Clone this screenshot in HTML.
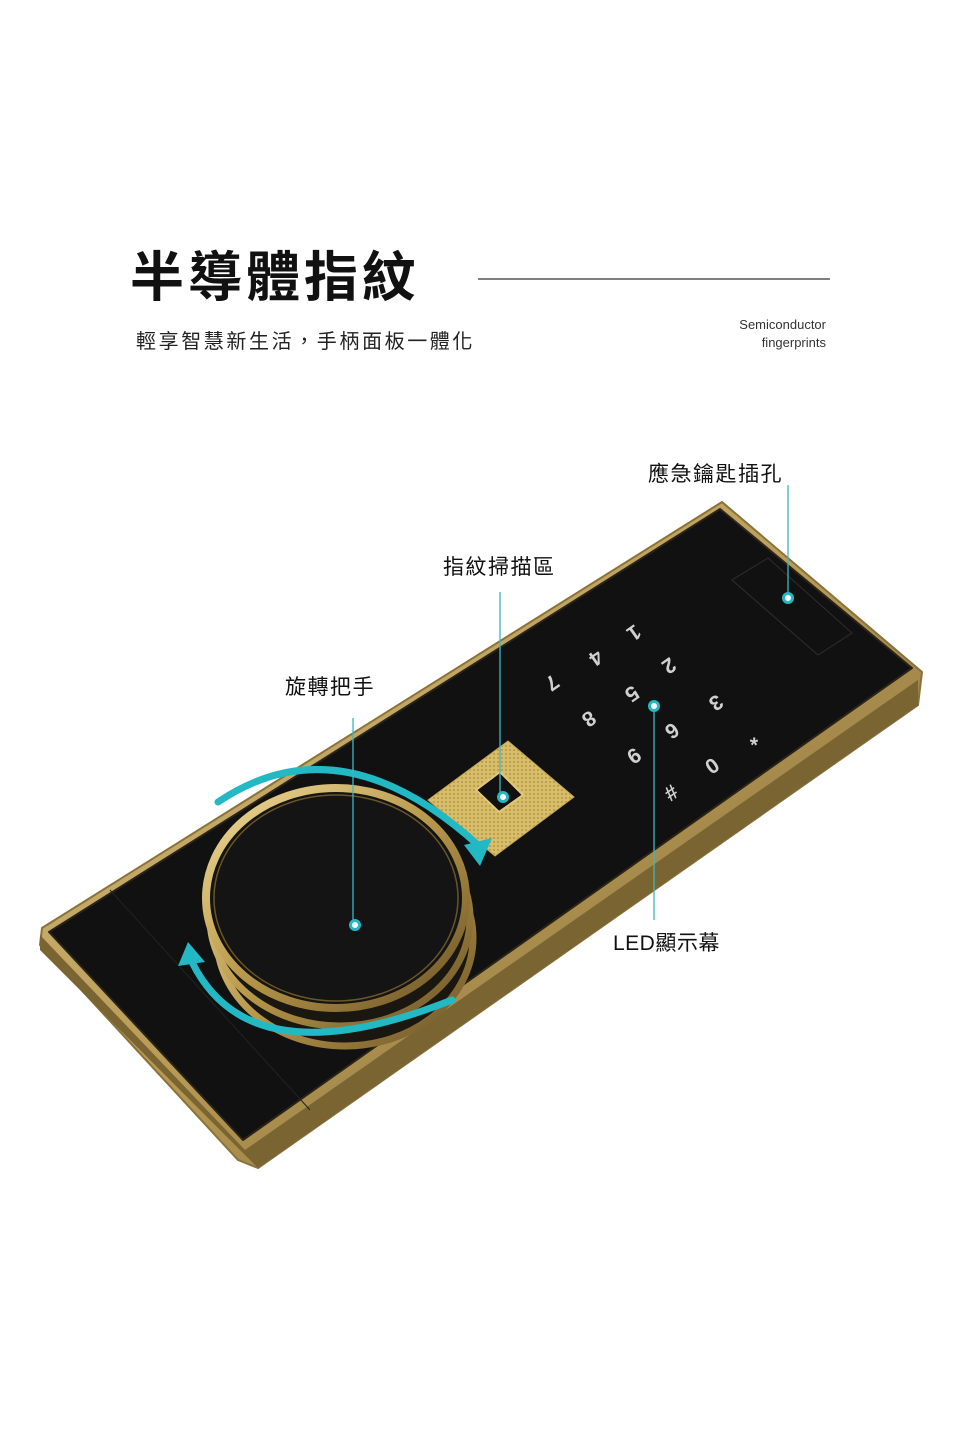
<!DOCTYPE html>
<html><head><meta charset="utf-8"><style>
body{margin:0;background:#fff;}
svg{display:block}
</style></head><body>
<svg width="960" height="1440" viewBox="0 0 960 1440" xmlns="http://www.w3.org/2000/svg" font-family="Liberation Sans, Noto Sans CJK TC, sans-serif">
<defs>
<linearGradient id="gold" x1="0" y1="0" x2="1" y2="1">
<stop offset="0" stop-color="#d9c48a"/><stop offset="0.5" stop-color="#b89a55"/><stop offset="1" stop-color="#6e5a2e"/>
</linearGradient>
<linearGradient id="ring" x1="0" y1="0" x2="1" y2="1">
<stop offset="0" stop-color="#f0dc9a"/><stop offset="0.5" stop-color="#b8984a"/><stop offset="1" stop-color="#6a5226"/>
</linearGradient>
<pattern id="mesh" width="4" height="4" patternUnits="userSpaceOnUse">
<rect width="4" height="4" fill="#d8bd6a"/><circle cx="2" cy="2" r="0.9" fill="#a88a3c"/>
</pattern>
</defs>
<text x="130" y="296" font-size="54" font-weight="bold" fill="#111" letter-spacing="4">半導體指紋</text>
<line x1="478" y1="279" x2="830" y2="279" stroke="#333" stroke-width="1.2"/>
<text x="136" y="348" font-size="20" fill="#222" letter-spacing="2.6">輕享智慧新生活，手柄面板一體化</text>
<text x="826" y="329" font-size="13" fill="#333" text-anchor="end">Semiconductor</text>
<text x="826" y="347" font-size="13" fill="#333" text-anchor="end">fingerprints</text>

<!-- device -->
<polygon points="722,502 922,672 918,705 258,1168 238,1160 40,945 42,928" fill="url(#gold)" stroke="#8a7238" stroke-width="2" stroke-linejoin="round"/>
<polygon points="40,935 245,1150 918,680 918,705 258,1168 40,950" fill="#7a6432"/>
<polygon points="720,509 912,668 243,1140 49,932" fill="#111" stroke="#2a2418" stroke-width="2" stroke-linejoin="round"/>
<polygon points="732,580 818,655 852,633 768,558" fill="none" stroke="#2e2e2e" stroke-width="1"/>
<line x1="110" y1="890" x2="310" y2="1110" stroke="#222" stroke-width="1"/>

<!-- keypad -->
<g fill="#d0d0d0" font-size="21" font-weight="bold" text-anchor="middle">
<text transform="translate(630,627) rotate(145)">1</text>
<text transform="translate(665,660) rotate(145)">2</text>
<text transform="translate(712,697) rotate(145)">3</text>
<text transform="translate(592,652) rotate(145)">4</text>
<text transform="translate(628,688) rotate(145)">5</text>
<text transform="translate(668,725) rotate(145)">6</text>
<text transform="translate(548,677) rotate(145)">7</text>
<text transform="translate(585,713) rotate(145)">8</text>
<text transform="translate(630,750) rotate(145)">9</text>
<text transform="translate(748,733) rotate(145)">*</text>
<text transform="translate(708,760) rotate(145)">0</text>
<text transform="translate(667,787) rotate(145)">#</text>
</g>

<!-- fingerprint pad -->
<polygon points="428,800 508,741 574,797 495,856" fill="url(#mesh)" stroke="#c5a650" stroke-width="1"/>
<polygon points="476,790 500,772 523,795 499,812" fill="#111" stroke="#e2c979" stroke-width="2"/>

<!-- knob -->
<ellipse cx="345" cy="938" rx="128" ry="108" fill="#1a1610" stroke="url(#ring)" stroke-width="7"/>
<ellipse cx="340" cy="918" rx="130" ry="108" fill="#1a1610" stroke="url(#ring)" stroke-width="7"/>
<ellipse cx="336" cy="898" rx="130" ry="110" fill="#141414" stroke="url(#ring)" stroke-width="8"/>
<ellipse cx="336" cy="898" rx="122" ry="103" fill="none" stroke="#6a5526" stroke-width="1.5"/>

<!-- arrows -->
<path d="M218,802 Q340,720 478,845" fill="none" stroke="#23b9c4" stroke-width="7" stroke-linecap="round"/>
<polygon points="464,845 492,838 480,866" fill="#23b9c4"/>
<path d="M192,962 Q250,1080 452,1000" fill="none" stroke="#23b9c4" stroke-width="7" stroke-linecap="round"/>
<polygon points="178,966 188,942 205,962" fill="#23b9c4"/>

<!-- callouts -->
<g stroke="#3ab8c4" stroke-width="1.3">
<line x1="788" y1="485" x2="788" y2="597"/>
<line x1="500" y1="592" x2="500" y2="797"/>
<line x1="353" y1="718" x2="353" y2="925"/>
<line x1="654" y1="706" x2="654" y2="920"/>
</g>
<g fill="#fff" stroke="#22b8c4" stroke-width="3">
<circle cx="788" cy="598" r="4.5"/>
<circle cx="503" cy="797" r="4.5"/>
<circle cx="355" cy="925" r="4.5"/>
<circle cx="654" cy="706" r="4.5"/>
</g>
<g font-size="21" fill="#111" letter-spacing="1.5">
<text x="648" y="481">應急鑰匙插孔</text>
<text x="443" y="574">指紋掃描區</text>
<text x="285" y="694">旋轉把手</text>
<text x="613" y="950" letter-spacing="0.5">LED顯示幕</text>
</g>
</svg>
</body></html>
